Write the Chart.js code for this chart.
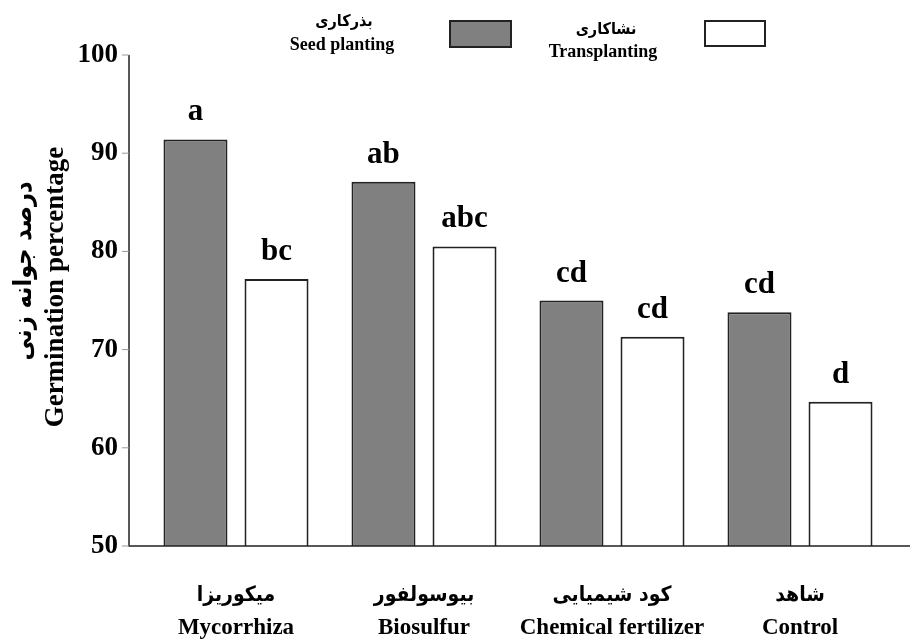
<!DOCTYPE html>
<html>
<head>
<meta charset="utf-8">
<script src="https://cdn.jsdelivr.net/npm/chart.js@4"></script>
<style>
  body { margin: 0; background: #fff; }
  #wrap { position: relative; width: 911px; height: 640px; }
</style>
</head>
<body>
<div id="wrap"><canvas id="chart" width="911" height="640"></canvas></div>
<script>
// data
const categoriesFa = ['میکوریزا', 'بیوسولفور', 'کود شیمیایی', 'شاهد'];
const categoriesEn = ['Mycorrhiza', 'Biosulfur', 'Chemical fertilizer', 'Control'];
const seedPlanting = [91.4, 87.1, 75.0, 73.8];
const transplanting = [77.2, 80.5, 71.3, 64.7];
const seedLetters = ['a', 'ab', 'cd', 'cd'];
const transLetters = ['bc', 'abc', 'cd', 'd'];
const yTicks = [50, 60, 70, 80, 90, 100];

const serif = '"Liberation Serif", "DejaVu Serif", serif';
const persian = '"DejaVu Sans Condensed", "DejaVu Sans", sans-serif';

// axes, category labels, legend, y title and letters
const decorations = {
    id: 'decorations',
    afterDraw(chart) {
        const ctx = chart.ctx;
        const y = chart.scales.y;
        const x = chart.scales.x;
        const axisX = 129;
        const bottom = y.getPixelForValue(50);

        ctx.save();
        ctx.strokeStyle = '#222';
        ctx.lineWidth = 1.5;
        ctx.beginPath();
        ctx.moveTo(axisX, y.getPixelForValue(100));
        ctx.lineTo(axisX, bottom);
        ctx.lineTo(910, bottom);
        ctx.stroke();

        // tick marks
        ctx.strokeStyle = '#999';
        ctx.lineWidth = 1;
        yTicks.forEach(v => {
            const py = y.getPixelForValue(v);
            ctx.beginPath();
            ctx.moveTo(axisX - 7, py);
            ctx.lineTo(axisX, py);
            ctx.stroke();
        });

        ctx.fillStyle = '#000';
        ctx.textAlign = 'center';

        // category labels
        ctx.textBaseline = 'middle';
        categoriesEn.forEach((lab, i) => {
            const px = x.getPixelForTick(i);
            ctx.font = 'bold 21px ' + persian;
            ctx.fillText(categoriesFa[i], px, 596);
            ctx.font = 'bold 23px ' + serif;
            ctx.fillText(lab, px, 628);
        });

        // letters over bars
        ctx.font = 'bold 31px ' + serif;
        ctx.textBaseline = 'alphabetic';
        [seedLetters, transLetters].forEach((letters, di) => {
            chart.getDatasetMeta(di).data.forEach((bar, i) => {
                ctx.fillText(letters[i], bar.x, bar.y - 19);
            });
        });

        // y title
        ctx.textBaseline = 'middle';
        ctx.save();
        ctx.translate(24, 271);
        ctx.rotate(-Math.PI / 2);
        ctx.font = 'bold 25px ' + persian;
        ctx.fillText('درصد جوانه زنی', 0, 0);
        ctx.restore();
        ctx.save();
        ctx.translate(56, 287);
        ctx.rotate(-Math.PI / 2);
        ctx.font = 'bold 27px ' + serif;
        ctx.fillText('Germination percentage', 0, 0);
        ctx.restore();

        // legend
        ctx.font = 'bold 16px ' + persian;
        ctx.fillText('بذرکاری', 344, 22);
        ctx.fillText('نشاکاری', 606, 30);
        ctx.font = 'bold 18px ' + serif;
        ctx.fillText('Seed planting', 342, 45);
        ctx.fillText('Transplanting', 603, 52);

        ctx.lineWidth = 2;
        ctx.strokeStyle = '#222';
        ctx.fillStyle = '#808080';
        ctx.fillRect(450, 21, 61, 26);
        ctx.strokeRect(450, 21, 61, 26);
        ctx.fillStyle = '#fff';
        ctx.fillRect(705, 21, 60, 25);
        ctx.strokeRect(705, 21, 60, 25);
        ctx.restore();
    }
};

new Chart(document.getElementById('chart').getContext('2d'), {
    type: 'bar',
    data: {
        labels: categoriesEn,
        datasets: [{
            label: 'Seed planting',
            data: seedPlanting,
            backgroundColor: '#808080',
            borderColor: '#222',
            borderWidth: 2,
            categoryPercentage: 0.862,
            barPercentage: 0.79
        }, {
            label: 'Transplanting',
            data: transplanting,
            backgroundColor: '#fff',
            borderColor: '#222',
            borderWidth: 2,
            categoryPercentage: 0.862,
            barPercentage: 0.79
        }]
    },
    options: {
        responsive: false,
        animation: false,
        layout: { padding: { top: 55, right: 17, left: 0, bottom: 0 } },
        plugins: {
            legend: { display: false },
            tooltip: { enabled: false }
        },
        scales: {
            x: {
                afterFit(scale) { scale.height = 94; },
                grid: { display: false },
                border: { display: false },
                ticks: { display: false }
            },
            y: {
                min: 50,
                max: 100,
                afterFit(scale) { scale.width = 142; },
                grid: { display: false },
                border: { display: false },
                ticks: {
                    stepSize: 10,
                    color: '#000',
                    padding: 16,
                    font: { family: serif, size: 27, weight: 'bold' }
                }
            }
        }
    },
    plugins: [decorations]
});
</script>
</body>
</html>
